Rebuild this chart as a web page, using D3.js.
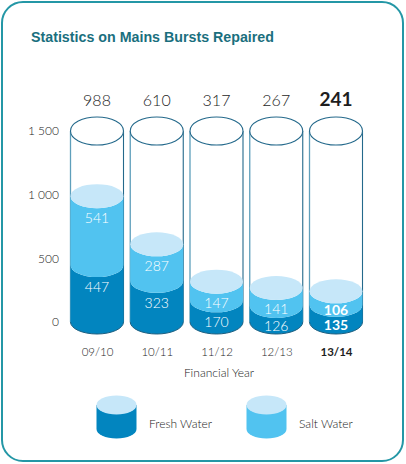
<!DOCTYPE html>
<html><head><meta charset="utf-8">
<script src="https://cdn.jsdelivr.net/npm/d3@7"></script>
<style>html,body{margin:0;padding:0;background:#fff;}svg{display:block;}</style>
</head><body>
<script>
const years = ["09/10","10/11","11/12","12/13","13/14"];
const fresh = [447, 323, 170, 126, 135];
const salt = [541, 287, 147, 141, 106];
const totals = [988, 610, 317, 267, 241];
const yTicks = [0, 500, 1000, 1500];
const yTickLabels = ["0", "500", "1 000", "1 500"];
const legendItems = ["Fresh Water", "Salt Water"];

const W = 406, H = 464;
const cDark = "#0285bf", cMid = "#51c3f0", cLight = "#c6e7f9", cLine = "#24698b";
const svg = d3.select("body").append("svg").attr("width", W).attr("height", H);

svg.append("rect").attr("x", 2).attr("y", 2).attr("width", 401).attr("height", 459)
  .attr("rx", 21).attr("fill", "#fff").attr("stroke", "#2497a6").attr("stroke-width", 2);

svg.append("text").attr("x", 31).attr("y", 41.5)
  .attr("font-family", "Liberation Sans, Arial, sans-serif").attr("font-weight", "bold")
  .attr("font-size", 15).attr("fill", "#1a6f7e")
  .attr("textLength", 243).attr("lengthAdjust", "spacingAndGlyphs")
  .text("Statistics on Mains Bursts Repaired");

const x = d3.scalePoint().domain(years).range([97, 336]);
const y = d3.scaleLinear().domain([0, 1500]).range([322, 131]);
const rx = 26.5, ry = 12, ryTop = 14;
const font = "Lato, 'Open Sans', sans-serif";

// y axis
const yAxis = svg.append("g").attr("transform", "translate(59,0)")
  .call(d3.axisLeft(y).tickValues(yTicks).tickSize(0).tickPadding(0)
    .tickFormat((d, i) => yTickLabels[i]));
yAxis.select(".domain").remove();
yAxis.selectAll("text").attr("font-family", font).attr("font-size", 12).attr("fill", "#222")
  .attr("font-weight", 300);

// x axis labels
const xAxis = svg.append("g").attr("transform", "translate(0,348)")
  .call(d3.axisBottom(x).tickSize(0).tickPadding(0));
xAxis.select(".domain").remove();
xAxis.selectAll("text").attr("font-family", font).attr("font-size", 11.5).attr("fill", "#1e1e1e")
  .attr("font-weight", (d, i) => i === years.length - 1 ? "bold" : 300);

svg.append("text").attr("x", 219).attr("y", 377).attr("text-anchor", "middle")
  .attr("font-family", font).attr("font-size", 12).attr("fill", "#222").attr("font-weight", 300)
  .text("Financial Year");

function segPath(cx, y0, y1) {
  return `M${cx - rx},${y1} L${cx - rx},${y0} A${rx},${ry} 0 0 0 ${cx + rx},${y0} L${cx + rx},${y1} A${rx},${ry} 0 0 1 ${cx - rx},${y1} Z`;
}

years.forEach((yr, i) => {
  const cx = x(yr);
  const g = svg.append("g");
  const yTop = y(1500), y0 = y(0), yF = y(fresh[i]), yT = y(fresh[i] + salt[i]);
  g.append("line").attr("x1", cx - rx).attr("x2", cx - rx).attr("y1", yTop).attr("y2", y0)
    .attr("stroke", "#5e9fbb").attr("stroke-width", 1.3);
  g.append("line").attr("x1", cx + rx).attr("x2", cx + rx).attr("y1", yTop).attr("y2", y0)
    .attr("stroke", cLine).attr("stroke-width", 1.1);
  g.append("ellipse").attr("cx", cx).attr("cy", yTop).attr("rx", rx).attr("ry", ryTop)
    .attr("fill", "#fff").attr("stroke", cLine).attr("stroke-width", 1.1);
  g.append("path").attr("d", segPath(cx, y0, yF)).attr("fill", cDark);
  g.append("path").attr("d", segPath(cx, yF, yT)).attr("fill", cMid);
  g.append("ellipse").attr("cx", cx).attr("cy", yT).attr("rx", rx).attr("ry", ry).attr("fill", cLight);
  g.append("path").attr("d", `M${cx - rx},${y0} A${rx},${ry} 0 0 0 ${cx + rx},${y0}`)
    .attr("fill", "none").attr("stroke", "#1d5f80").attr("stroke-width", 1);
  const bold = i === years.length - 1;
  const saltY = Math.min(yT + ry + 10, (yT + yF) / 2 + ry);
  const freshY = Math.min(yF + ry + 10, (yF + y0) / 2 + ry);
  g.append("text").attr("x", cx).attr("y", saltY).attr("dy", "0.35em").attr("text-anchor", "middle")
    .attr("font-family", font).attr("font-size", 14).attr("fill", "#fff")
    .attr("font-weight", bold ? "bold" : 300).text(salt[i]);
  g.append("text").attr("x", cx).attr("y", freshY).attr("dy", "0.35em").attr("text-anchor", "middle")
    .attr("font-family", font).attr("font-size", 14).attr("fill", "#fff")
    .attr("font-weight", bold ? "bold" : 300).text(fresh[i]);
  g.append("text").attr("x", cx).attr("y", 106).attr("text-anchor", "middle")
    .attr("font-family", font).attr("font-size", bold ? 19 : 16).attr("fill", "#1e1e1e")
    .attr("font-weight", bold ? "bold" : 300).text(totals[i]);
});

// legend
const legendX = [116.5, 266.5];
const legendColors = [cDark, cMid];
legendItems.forEach((name, i) => {
  const cx = legendX[i], lrx = 20, lry = 9.5, t = 405, b = 429;
  svg.append("path")
    .attr("d", `M${cx - lrx},${t} L${cx - lrx},${b} A${lrx},${lry} 0 0 0 ${cx + lrx},${b} L${cx + lrx},${t} Z`)
    .attr("fill", legendColors[i]);
  svg.append("ellipse").attr("cx", cx).attr("cy", t).attr("rx", lrx).attr("ry", lry).attr("fill", cLight);
  svg.append("text").attr("x", cx + 32.5).attr("y", 424).attr("dy", "0.35em")
    .attr("font-family", font).attr("font-size", 12).attr("fill", "#222").attr("font-weight", 300)
    .text(name);
});
</script>
</body></html>
